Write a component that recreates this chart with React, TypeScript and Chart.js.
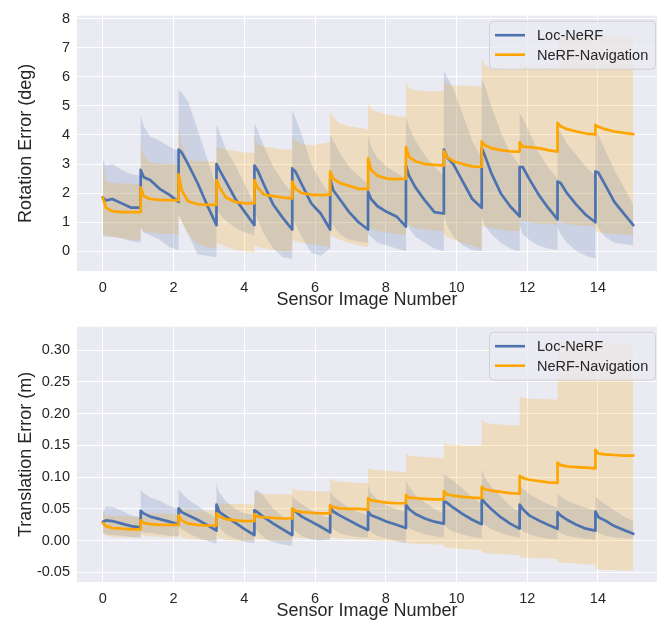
import React, { useEffect, useRef } from "react";
import { Chart, registerables } from "chart.js";

Chart.register(...registerables);

// ---- shared x layout: 14 sensor-image segments ----
const segmentStarts = [0, 1.071, 2.143, 3.214, 4.286, 5.357, 6.429, 7.5, 8.571, 9.643, 10.714, 11.786, 12.857, 13.929, 15];
const sampleFractions = [0, 0.08, 0.25, 0.5, 0.75, 1.0];
const xTickValues = [0, 2, 4, 6, 8, 10, 12, 14];
const rotYTicks = [0, 1, 2, 3, 4, 5, 6, 7, 8];
const transYTicks = [-0.05, 0, 0.05, 0.1, 0.15, 0.2, 0.25, 0.3];
const seriesNames = ["Loc-NeRF", "NeRF-Navigation"];

// ---- Rotation error (deg) ----
const rotLocMean = [
  [1.85, 1.75, 1.8, 1.65, 1.5, 1.5],
  [2.8, 2.55, 2.45, 2.15, 1.95, 1.7],
  [3.5, 3.4, 3.0, 2.35, 1.6, 0.9],
  [3.0, 2.8, 2.4, 1.8, 1.35, 0.9],
  [2.95, 2.8, 2.3, 1.6, 1.15, 0.75],
  [2.85, 2.75, 2.3, 1.65, 1.3, 0.75],
  [2.5, 2.1, 1.8, 1.35, 1.0, 0.75],
  [2.05, 1.8, 1.55, 1.35, 1.2, 0.85],
  [2.95, 2.6, 2.2, 1.75, 1.35, 1.3],
  [3.5, 3.25, 3.0, 2.4, 1.8, 1.5],
  [3.55, 3.3, 2.7, 2.0, 1.55, 1.2],
  [2.9, 2.9, 2.5, 1.95, 1.5, 1.1],
  [2.4, 2.35, 2.0, 1.6, 1.25, 1.0],
  [2.75, 2.7, 2.3, 1.7, 1.3, 0.9],
];
const rotLocUpper = [
  [3.15, 2.95, 3.0, 2.8, 2.65, 2.6],
  [4.65, 4.3, 3.95, 3.8, 3.6, 3.45],
  [5.55, 5.45, 5.15, 4.2, 3.2, 2.2],
  [4.35, 4.1, 3.5, 2.95, 2.3, 1.6],
  [4.4, 4.2, 3.6, 2.9, 2.4, 2.0],
  [4.85, 4.6, 4.0, 3.0, 2.4, 1.95],
  [4.0, 3.8, 3.4, 2.9, 2.6, 2.3],
  [4.0, 3.6, 3.2, 2.9, 2.7, 2.5],
  [4.6, 4.3, 3.8, 3.3, 2.9, 2.6],
  [6.2, 6.0, 5.6, 4.7, 3.8, 3.2],
  [5.95, 5.7, 5.0, 4.1, 3.4, 2.95],
  [4.75, 4.6, 4.1, 3.4, 2.9, 2.5],
  [4.25, 4.1, 3.7, 3.3, 2.9, 2.6],
  [4.15, 4.0, 3.5, 2.8, 2.2, 1.6],
];
const rotLocLower = [
  [0.55, 0.5, 0.5, 0.45, 0.35, 0.3],
  [0.8, 0.65, 0.55, 0.4, 0.15, 0.05],
  [1.3, 1.05, 0.6, -0.1, -0.15, -0.2],
  [1.45, 1.3, 1.05, 0.8, 0.65, 0.55],
  [1.4, 1.1, 0.6, 0.1, -0.2, -0.25],
  [1.2, 0.95, 0.5, -0.05, -0.15, 0.1],
  [1.2, 0.9, 0.6, 0.4, 0.35, 0.3],
  [0.6, 0.5, 0.3, 0.2, 0.1, 0.0],
  [1.2, 0.8, 0.5, 0.3, 0.1, 0.0],
  [1.3, 0.9, 0.5, 0.2, 0.05, 0.0],
  [1.2, 0.9, 0.6, 0.3, 0.1, 0.0],
  [0.9, 0.6, 0.4, 0.2, 0.1, 0.05],
  [0.85, 0.6, 0.3, 0.0, -0.15, -0.25],
  [1.0, 0.8, 0.5, 0.3, 0.25, 0.2],
];
const rotNavMean = [
  [1.85, 1.5, 1.38, 1.35, 1.35, 1.35],
  [2.2, 1.9, 1.8, 1.77, 1.76, 1.75],
  [2.65, 2.1, 1.72, 1.62, 1.6, 1.6],
  [2.45, 2.2, 1.85, 1.7, 1.65, 1.65],
  [2.45, 2.2, 1.95, 1.9, 1.85, 1.82],
  [2.4, 2.15, 2.0, 1.95, 1.93, 1.95],
  [2.75, 2.5, 2.35, 2.25, 2.15, 2.15],
  [3.2, 2.8, 2.6, 2.5, 2.48, 2.5],
  [3.58, 3.25, 3.1, 3.0, 2.97, 2.95],
  [3.45, 3.25, 3.1, 3.0, 2.92, 2.9],
  [3.78, 3.65, 3.55, 3.48, 3.44, 3.43],
  [3.75, 3.6, 3.58, 3.55, 3.48, 3.43],
  [4.42, 4.3, 4.2, 4.12, 4.05, 4.02],
  [4.35, 4.28, 4.2, 4.12, 4.07, 4.03],
];
const rotNavUpper = [
  [3.1, 2.4, 2.35, 2.33, 2.32, 2.32],
  [3.75, 3.3, 3.05, 3.02, 3.0, 3.0],
  [4.3, 3.7, 3.15, 3.1, 3.1, 3.08],
  [3.6, 3.55, 3.5, 3.45, 3.4, 3.38],
  [4.0, 3.7, 3.6, 3.55, 3.5, 3.5],
  [4.0, 3.8, 3.7, 3.65, 3.7, 3.75],
  [4.83, 4.6, 4.4, 4.3, 4.25, 4.2],
  [5.1, 4.9, 4.8, 4.7, 4.65, 4.6],
  [5.85, 5.6, 5.55, 5.5, 5.5, 5.5],
  [5.8, 5.75, 5.7, 5.7, 5.68, 5.65],
  [6.6, 6.4, 6.3, 6.3, 6.25, 6.25],
  [6.5, 6.4, 6.35, 6.3, 6.3, 6.3],
  [7.45, 7.4, 7.4, 7.38, 7.35, 7.35],
  [7.45, 7.45, 7.42, 7.4, 7.4, 7.4],
];
const rotNavLower = [
  [0.6, 0.55, 0.5, 0.45, 0.4, 0.4],
  [0.8, 0.7, 0.65, 0.62, 0.6, 0.6],
  [1.2, 1.0, 0.6, 0.25, 0.15, 0.1],
  [0.3, 0.25, 0.15, 0.05, 0.0, -0.05],
  [0.2, 0.15, 0.1, 0.05, 0.0, 0.0],
  [0.4, 0.35, 0.3, 0.25, 0.2, 0.15],
  [0.55, 0.5, 0.4, 0.3, 0.2, 0.15],
  [0.9, 0.8, 0.7, 0.65, 0.6, 0.55],
  [1.0, 0.9, 0.8, 0.75, 0.72, 0.7],
  [0.6, 0.5, 0.4, 0.3, 0.2, 0.1],
  [0.9, 0.85, 0.8, 0.75, 0.7, 0.7],
  [1.1, 1.05, 1.0, 0.95, 0.95, 0.9],
  [1.05, 1.0, 0.95, 0.9, 0.88, 0.85],
  [0.7, 0.65, 0.62, 0.6, 0.58, 0.55],
];

// ---- Translation error (m) ----
const transLocMean = [
  [0.03, 0.032, 0.031, 0.027, 0.023, 0.021],
  [0.047, 0.043, 0.038, 0.034, 0.03, 0.026],
  [0.051, 0.045, 0.04, 0.033, 0.025, 0.016],
  [0.057, 0.045, 0.038, 0.028, 0.018, 0.009],
  [0.048, 0.045, 0.037, 0.027, 0.018, 0.009],
  [0.05, 0.046, 0.038, 0.03, 0.022, 0.013],
  [0.052, 0.046, 0.04, 0.032, 0.024, 0.017],
  [0.046, 0.04, 0.036, 0.03, 0.025, 0.02],
  [0.057, 0.05, 0.042, 0.035, 0.03, 0.027],
  [0.062, 0.06, 0.052, 0.042, 0.033, 0.026],
  [0.066, 0.06, 0.05, 0.037, 0.027, 0.019],
  [0.057, 0.05, 0.04, 0.032, 0.025, 0.019],
  [0.045, 0.04, 0.033, 0.025, 0.019, 0.016],
  [0.046, 0.037, 0.032, 0.023, 0.017, 0.011],
];
const transLocUpper = [
  [0.045, 0.054, 0.053, 0.047, 0.04, 0.036],
  [0.08, 0.075, 0.068, 0.063, 0.055, 0.05],
  [0.081, 0.075, 0.065, 0.055, 0.045, 0.035],
  [0.09, 0.075, 0.062, 0.05, 0.043, 0.04],
  [0.078, 0.08, 0.07, 0.05, 0.038, 0.03],
  [0.07, 0.065, 0.058, 0.048, 0.04, 0.035],
  [0.078, 0.07, 0.062, 0.052, 0.045, 0.04],
  [0.088, 0.075, 0.065, 0.055, 0.05, 0.045],
  [0.095, 0.085, 0.072, 0.06, 0.05, 0.043],
  [0.105, 0.102, 0.095, 0.082, 0.068, 0.058],
  [0.113, 0.1, 0.085, 0.07, 0.055, 0.045],
  [0.088, 0.082, 0.074, 0.065, 0.058, 0.052],
  [0.073, 0.07, 0.063, 0.057, 0.052, 0.047],
  [0.07, 0.065, 0.058, 0.048, 0.038, 0.031],
];
const transLocLower = [
  [0.012, 0.01, 0.009, 0.008, 0.006, 0.005],
  [0.014, 0.013, 0.012, 0.01, 0.008, 0.007],
  [0.022, 0.018, 0.012, 0.005, 0.0, -0.005],
  [0.03, 0.02, 0.01, 0.003, -0.002, -0.004],
  [0.025, 0.015, 0.005, -0.002, -0.006, -0.008],
  [0.025, 0.015, 0.008, 0.002, 0.0, 0.002],
  [0.025, 0.018, 0.012, 0.008, 0.006, 0.005],
  [0.02, 0.013, 0.008, 0.003, 0.0, -0.004],
  [0.025, 0.02, 0.015, 0.01, 0.007, 0.005],
  [0.025, 0.02, 0.014, 0.01, 0.006, 0.004],
  [0.03, 0.025, 0.018, 0.012, 0.008, 0.005],
  [0.02, 0.015, 0.01, 0.006, 0.003, 0.002],
  [0.015, 0.012, 0.008, 0.005, 0.003, 0.002],
  [0.015, 0.012, 0.008, 0.005, 0.004, 0.003],
];
const transNavMean = [
  [0.028, 0.023, 0.02, 0.019, 0.018, 0.018],
  [0.032, 0.028, 0.026, 0.025, 0.025, 0.025],
  [0.04, 0.032, 0.027, 0.025, 0.024, 0.024],
  [0.043, 0.038, 0.034, 0.032, 0.031, 0.031],
  [0.042, 0.038, 0.037, 0.036, 0.035, 0.035],
  [0.051, 0.047, 0.045, 0.044, 0.043, 0.043],
  [0.056, 0.053, 0.051, 0.05, 0.05, 0.049],
  [0.067, 0.064, 0.062, 0.06, 0.059, 0.059],
  [0.072, 0.068, 0.067, 0.066, 0.065, 0.065],
  [0.078, 0.073, 0.071, 0.069, 0.068, 0.067],
  [0.085, 0.081, 0.079, 0.077, 0.075, 0.074],
  [0.102, 0.099, 0.096, 0.094, 0.092, 0.091],
  [0.123, 0.119, 0.117, 0.116, 0.115, 0.114],
  [0.143, 0.137, 0.136, 0.135, 0.134, 0.134],
];
const transNavUpper = [
  [0.043, 0.04, 0.039, 0.039, 0.038, 0.038],
  [0.047, 0.044, 0.043, 0.043, 0.042, 0.042],
  [0.057, 0.05, 0.048, 0.047, 0.047, 0.047],
  [0.062, 0.059, 0.058, 0.058, 0.058, 0.057],
  [0.076, 0.075, 0.074, 0.073, 0.073, 0.073],
  [0.084, 0.08, 0.079, 0.078, 0.078, 0.077],
  [0.097, 0.095, 0.093, 0.092, 0.091, 0.091],
  [0.114, 0.112, 0.111, 0.11, 0.109, 0.108],
  [0.137, 0.134, 0.133, 0.132, 0.131, 0.13],
  [0.154, 0.152, 0.151, 0.15, 0.15, 0.15],
  [0.19, 0.186, 0.184, 0.183, 0.182, 0.182],
  [0.227, 0.225, 0.224, 0.223, 0.223, 0.222],
  [0.315, 0.313, 0.312, 0.31, 0.31, 0.31],
  [0.315, 0.313, 0.312, 0.31, 0.31, 0.309],
];
const transNavLower = [
  [0.012, 0.008, 0.006, 0.005, 0.005, 0.005],
  [0.01, 0.008, 0.007, 0.006, 0.005, 0.005],
  [0.012, 0.006, 0.003, 0.002, 0.001, 0.0],
  [0.008, 0.004, 0.002, 0.0, 0.0, 0.0],
  [0.005, 0.003, 0.001, 0.0, 0.0, 0.0],
  [0.008, 0.005, 0.004, 0.003, 0.002, 0.002],
  [0.006, 0.005, 0.004, 0.003, 0.002, 0.002],
  [0.002, 0.001, 0.0, 0.0, -0.001, -0.002],
  [-0.003, -0.004, -0.005, -0.005, -0.006, -0.006],
  [-0.01, -0.011, -0.012, -0.013, -0.014, -0.015],
  [-0.018, -0.019, -0.02, -0.021, -0.022, -0.023],
  [-0.026, -0.027, -0.027, -0.028, -0.028, -0.029],
  [-0.033, -0.034, -0.035, -0.036, -0.037, -0.038],
  [-0.044, -0.045, -0.046, -0.046, -0.047, -0.047],
];

// ---- styling ----
const BLUE = "#4C72B0";
const ORANGE = "#FFA500";
const BLUE_BAND = "rgba(76,114,176,0.2)";
const ORANGE_BAND = "rgba(255,165,0,0.2)";
const AX_BG = "#EAEAF2";
const TEXT = "#262626";
const FONT = "'Liberation Sans', Arial, sans-serif";

function toPoints(rows: number[][]) {
  const pts: { x: number; y: number }[] = [];
  rows.forEach((row, k) => {
    const x0 = segmentStarts[k];
    const x1 = segmentStarts[k + 1];
    row.forEach((v, i) => pts.push({ x: x0 + sampleFractions[i] * (x1 - x0), y: v }));
  });
  return pts;
}

const bgPlugin = {
  id: "axBg",
  beforeDraw(chart: any) {
    const { ctx, chartArea } = chart;
    ctx.save();
    ctx.fillStyle = AX_BG;
    ctx.fillRect(chartArea.left, chartArea.top, chartArea.right - chartArea.left, chartArea.bottom - chartArea.top);
    ctx.restore();
  },
};

const legendPlugin = {
  id: "boxLegend",
  afterDraw(chart: any) {
    const { ctx, chartArea } = chart;
    const w = 166;
    const h = 48;
    const x = chartArea.right - 2 - w;
    const y = chartArea.top + 5;
    ctx.save();
    ctx.globalAlpha = 0.8;
    ctx.beginPath();
    (ctx as any).roundRect(x + 0.5, y + 0.5, w, h, 4);
    ctx.fillStyle = AX_BG;
    ctx.fill();
    ctx.strokeStyle = "#CCCCCC";
    ctx.lineWidth = 1;
    ctx.stroke();
    ctx.globalAlpha = 1;
    const colors = [BLUE, ORANGE];
    seriesNames.forEach((name, i) => {
      const ly = y + 14.5 + i * 19.5;
      ctx.beginPath();
      ctx.moveTo(x + 6, ly);
      ctx.lineTo(x + 36, ly);
      ctx.strokeStyle = colors[i];
      ctx.lineWidth = 2.6;
      ctx.stroke();
      ctx.fillStyle = TEXT;
      ctx.font = `14.5px ${FONT}`;
      ctx.textBaseline = "middle";
      ctx.textAlign = "left";
      ctx.fillText(name, x + 48, ly + 1);
    });
    ctx.restore();
  },
};

type PanelProps = {
  locMean: number[][];
  locUpper: number[][];
  locLower: number[][];
  navMean: number[][];
  navUpper: number[][];
  navLower: number[][];
  yMin: number;
  yMax: number;
  yTicks: number[];
  yTitle: string;
  yFmt: (v: number) => string;
};

function Panel(p: PanelProps) {
  const ref = useRef<HTMLCanvasElement | null>(null);
  useEffect(() => {
    if (!ref.current) return;
    const lineDs = (label: string, rows: number[][], color: string, order: number) => ({
      label,
      data: toPoints(rows),
      borderColor: color,
      borderWidth: 2.7,
      pointRadius: 0,
      fill: false,
      order,
    });
    const bandUpper = (rows: number[][], color: string, order: number) => ({
      label: "band",
      data: toPoints(rows),
      borderColor: "transparent",
      borderWidth: 0,
      pointRadius: 0,
      backgroundColor: color,
      fill: { target: "+1", above: color, below: color },
      order,
    });
    const bandLower = (rows: number[][], order: number) => ({
      label: "band",
      data: toPoints(rows),
      borderColor: "transparent",
      borderWidth: 0,
      pointRadius: 0,
      fill: false,
      order,
    });
    const chart = new Chart(ref.current, {
      type: "line",
      data: {
        datasets: [
          bandUpper(p.locUpper, BLUE_BAND, 5),
          bandLower(p.locLower, 5),
          lineDs(seriesNames[0], p.locMean, BLUE, 1),
          bandUpper(p.navUpper, ORANGE_BAND, 3),
          bandLower(p.navLower, 3),
          lineDs(seriesNames[1], p.navMean, ORANGE, 0),
        ] as any,
      },
      options: {
        animation: false,
        responsive: false,
        devicePixelRatio: 1,
        parsing: false as any,
        normalized: true,
        layout: { padding: { top: 11, right: 0, left: 0, bottom: 0 } },
        elements: { line: { tension: 0, borderJoinStyle: "round", borderCapStyle: "round" } },
        plugins: {
          legend: { display: false },
          tooltip: { enabled: false },
          filler: { propagate: false, drawTime: "beforeDatasetsDraw" },
        },
        scales: {
          x: {
            type: "linear",
            min: -0.73,
            max: 15.67,
            afterBuildTicks: (s: any) => {
              s.ticks = xTickValues.map((v) => ({ value: v }));
            },
            afterFit: (s: any) => {
              s.height = 40;
            },
            grid: { color: "#FFFFFF", lineWidth: 1, drawTicks: false },
            border: { display: false },
            ticks: {
              padding: 8,
              color: TEXT,
              font: { family: FONT, size: 14.5 },
              maxRotation: 0,
              callback: (v: any) => String(v),
            },
            title: {
              display: true,
              text: "Sensor Image Number",
              color: TEXT,
              font: { family: FONT, size: 18 },
              padding: { top: 0, bottom: 0 },
            },
          },
          y: {
            type: "linear",
            min: p.yMin,
            max: p.yMax,
            afterBuildTicks: (s: any) => {
              s.ticks = p.yTicks.map((v) => ({ value: v }));
            },
            afterFit: (s: any) => {
              s.width = 77;
            },
            grid: { color: "#FFFFFF", lineWidth: 1, drawTicks: false },
            border: { display: false },
            ticks: {
              padding: 7,
              color: TEXT,
              font: { family: FONT, size: 14.5 },
              callback: (v: any) => p.yFmt(Number(v)),
            },
            title: {
              display: true,
              text: p.yTitle,
              color: TEXT,
              font: { family: FONT, size: 18 },
              padding: { top: 15, bottom: 0 },
            },
          },
        },
      } as any,
      plugins: [bgPlugin, legendPlugin],
    });
    return () => chart.destroy();
  }, []);
  return <canvas ref={ref} width={657} height={311} style={{ display: "block", width: 657, height: 311 }} />;
}

export default function App() {
  return (
    <div style={{ position: "absolute", left: 0, top: 0, width: 657, height: 622, background: "#FFFFFF", overflow: "hidden" }}>
      <Panel
        locMean={rotLocMean}
        locUpper={rotLocUpper}
        locLower={rotLocLower}
        navMean={rotNavMean}
        navUpper={rotNavUpper}
        navLower={rotNavLower}
        yMin={-0.675}
        yMax={8.1}
        yTicks={rotYTicks}
        yTitle="Rotation Error (deg)"
        yFmt={(v) => String(Math.round(v))}
      />
      <Panel
        locMean={transLocMean}
        locUpper={transLocUpper}
        locLower={transLocLower}
        navMean={transNavMean}
        navUpper={transNavUpper}
        navLower={transNavLower}
        yMin={-0.065}
        yMax={0.337}
        yTicks={transYTicks}
        yTitle="Translation Error (m)"
        yFmt={(v) => v.toFixed(2)}
      />
    </div>
  );
}
